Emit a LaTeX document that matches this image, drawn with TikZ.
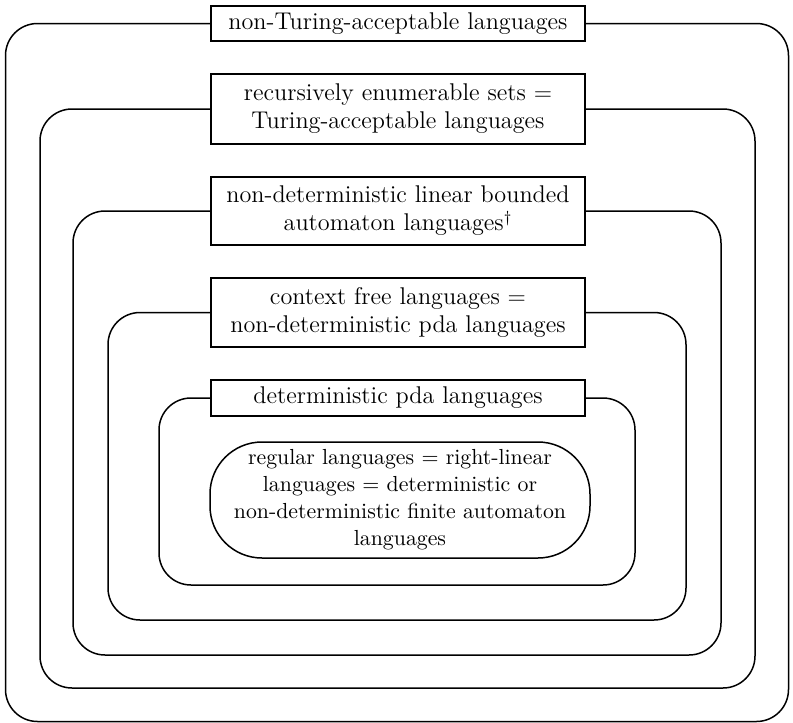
\documentclass[tikz,border=0pt]{standalone}
\begin{document}
\begin{tikzpicture}[x=0.5pt,y=-0.5pt,
  lbox/.style={draw,line width=0.6pt,minimum width=187pt,align=center,inner sep=0pt,
    font=\fontsize{12.1}{14}\selectfont},
  outline/.style={draw,line width=0.75pt,rounded corners=16pt}]
\useasboundingbox (0,0) rectangle (793,723);
\node[lbox,minimum height=17.5pt] (b1) at (398,23.5) {non-Turing-acceptable languages};
\node[lbox,minimum height=35pt] (b2) at (398,109) {recursively enumerable sets $=$\\Turing-acceptable languages};
\node[lbox,minimum height=34pt] (b3) at (398,211) {non-deterministic linear bounded\\automaton languages$^\dagger$};
\node[lbox,minimum height=34.5pt] (b4) at (398,312.5) {context free languages $=$\\non-deterministic pda languages};
\node[lbox,minimum height=18pt] (b5) at (398,398) {deterministic pda languages};
\node[lbox,minimum width=190pt,minimum height=58pt,rounded corners=26pt,line width=0.75pt,
  font=\fontsize{10.9}{13.5}\selectfont] (b6) at (400,500) {regular languages $=$ right-linear\\languages $=$ deterministic or\\non-deterministic finite automaton\\languages};
\coordinate (c1a) at (5.5,721.5); \coordinate (c1b) at (788.5,721.5);
\coordinate (c2a) at (40,688); \coordinate (c2b) at (755,688);
\coordinate (c3a) at (73,655); \coordinate (c3b) at (721,655);
\coordinate (c4a) at (108,620); \coordinate (c4b) at (686,620);
\coordinate (c5a) at (159,585); \coordinate (c5b) at (635,585);
\draw[outline] (b1.west) -| (c1a) -- (c1b) |- (b1.east);
\draw[outline] (b2.west) -| (c2a) -- (c2b) |- (b2.east);
\draw[outline] (b3.west) -| (c3a) -- (c3b) |- (b3.east);
\draw[outline] (b4.west) -| (c4a) -- (c4b) |- (b4.east);
\draw[outline] (b5.west) -| (c5a) -- (c5b) |- (b5.east);
\end{tikzpicture}
\end{document}
